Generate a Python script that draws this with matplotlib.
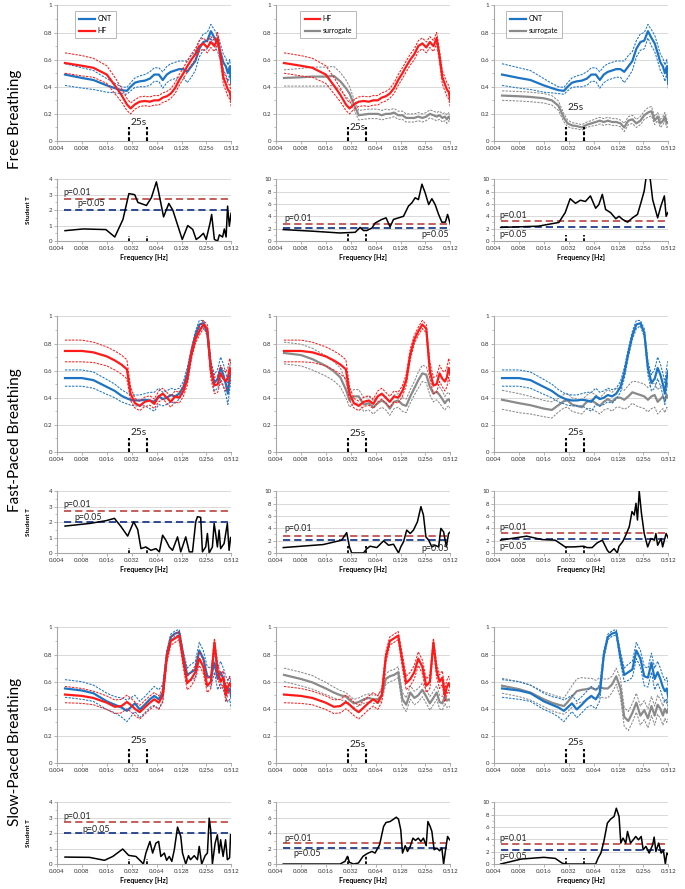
import numpy as np
import matplotlib
matplotlib.use("Agg")
import matplotlib.pyplot as plt
from matplotlib.ticker import MultipleLocator, FuncFormatter

plt.rcParams['font.family'] = ['Lato', 'DejaVu Sans']

# ---------------- data ----------------
# frequency grid of the coherence curves (Hz)
freq = [0.005, 0.008, 0.011, 0.016, 0.020, 0.024, 0.028, 0.031, 0.035, 0.040,
        0.046, 0.053, 0.060, 0.068, 0.076, 0.085, 0.095, 0.107, 0.120, 0.135,
        0.150, 0.168, 0.188, 0.210, 0.235, 0.262, 0.290, 0.320, 0.350, 0.380,
        0.410, 0.440, 0.465, 0.490, 0.512]

# free breathing - coherence mean / half width of band
cnt_free = [0.49, 0.465, 0.45, 0.41, 0.39, 0.375, 0.37, 0.40, 0.43, 0.44, 0.445, 0.46, 0.49, 0.49, 0.45, 0.49, 0.51, 0.52,
            0.53, 0.53, 0.51, 0.55, 0.59, 0.68, 0.73, 0.74, 0.81, 0.76, 0.72, 0.65, 0.58, 0.55, 0.50, 0.55, 0.42]
cnt_free_err = [0.08, 0.075, 0.07, 0.05, 0.035, 0.025, 0.025, 0.03, 0.035, 0.04, 0.045, 0.05, 0.05, 0.05, 0.06, 0.06, 0.06,
                0.06, 0.06, 0.06, 0.08, 0.08, 0.07, 0.06, 0.06, 0.06, 0.05, 0.06, 0.06, 0.06, 0.06, 0.06, 0.06, 0.05, 0.04]
hf_free = [0.575, 0.555, 0.54, 0.49, 0.41, 0.34, 0.27, 0.24, 0.27, 0.29, 0.295, 0.29, 0.30, 0.30, 0.32, 0.33, 0.35, 0.39,
           0.45, 0.50, 0.55, 0.60, 0.64, 0.70, 0.72, 0.69, 0.73, 0.70, 0.76, 0.62, 0.47, 0.42, 0.38, 0.36, 0.30]
hf_free_err = [0.075, 0.075, 0.07, 0.065, 0.06, 0.05, 0.045, 0.04, 0.035, 0.035, 0.035, 0.035, 0.035, 0.035, 0.035, 0.035,
               0.035, 0.04, 0.04, 0.04, 0.04, 0.04, 0.04, 0.04, 0.04, 0.04, 0.04, 0.04, 0.04, 0.04, 0.05, 0.05, 0.05,
               0.05, 0.05]
sur_hf_free = [0.465, 0.47, 0.475, 0.475, 0.48, 0.44, 0.39, 0.35, 0.27, 0.19, 0.195, 0.2, 0.2, 0.2, 0.19, 0.2, 0.2, 0.21,
               0.19, 0.19, 0.17, 0.17, 0.17, 0.18, 0.17, 0.18, 0.2, 0.19, 0.18, 0.19, 0.17, 0.18, 0.16, 0.18, 0.16]
sur_hf_free_err = [0.06, 0.065, 0.07, 0.07, 0.07, 0.065, 0.06, 0.05, 0.04, 0.035, 0.035, 0.035, 0.035, 0.035, 0.035,
                   0.035, 0.03, 0.03, 0.03, 0.03, 0.03, 0.03, 0.03, 0.03, 0.03, 0.03, 0.03, 0.03, 0.03, 0.03, 0.03,
                   0.03, 0.03, 0.03, 0.03]
sur_cnt_free = [0.335, 0.33, 0.325, 0.315, 0.30, 0.26, 0.17, 0.13, 0.115, 0.11, 0.10, 0.12, 0.13, 0.14, 0.15, 0.14, 0.15,
                0.14, 0.14, 0.13, 0.10, 0.15, 0.16, 0.13, 0.15, 0.19, 0.21, 0.22, 0.15, 0.18, 0.13, 0.15, 0.18, 0.13, 0.14]
sur_cnt_free_err = [0.035, 0.035, 0.035, 0.035, 0.035, 0.035, 0.03, 0.025, 0.02, 0.02, 0.02, 0.02, 0.02, 0.025, 0.025,
                    0.025, 0.025, 0.025, 0.025, 0.025, 0.03, 0.03, 0.03, 0.03, 0.03, 0.03, 0.035, 0.035, 0.03, 0.03,
                    0.03, 0.03, 0.03, 0.03, 0.03]

# fast-paced breathing
cnt_fast = [0.545, 0.545, 0.53, 0.48, 0.45, 0.415, 0.395, 0.385, 0.38, 0.38, 0.385, 0.38, 0.37, 0.41, 0.39, 0.40, 0.42,
            0.41, 0.43, 0.48, 0.58, 0.73, 0.86, 0.94, 0.95, 0.88, 0.62, 0.51, 0.54, 0.62, 0.57, 0.50, 0.43, 0.55, 0.60]
cnt_fast_err = [0.06, 0.06, 0.06, 0.055, 0.05, 0.045, 0.04, 0.04, 0.04, 0.04, 0.045, 0.06, 0.07, 0.06, 0.05, 0.05, 0.05,
                0.05, 0.04, 0.04, 0.04, 0.03, 0.03, 0.03, 0.02, 0.03, 0.05, 0.06, 0.07, 0.08, 0.08, 0.08, 0.08, 0.08, 0.08]
hf_fast = [0.745, 0.745, 0.735, 0.705, 0.675, 0.645, 0.61, 0.43, 0.36, 0.34, 0.37, 0.38, 0.355, 0.41, 0.43, 0.40, 0.37,
           0.41, 0.40, 0.45, 0.53, 0.72, 0.83, 0.89, 0.94, 0.91, 0.60, 0.49, 0.50, 0.58, 0.54, 0.52, 0.55, 0.62, 0.57]
hf_fast_err = [0.08, 0.08, 0.075, 0.07, 0.07, 0.07, 0.07, 0.05, 0.035, 0.035, 0.035, 0.035, 0.035, 0.04, 0.04, 0.04,
               0.04, 0.04, 0.04, 0.04, 0.04, 0.04, 0.03, 0.03, 0.03, 0.03, 0.06, 0.06, 0.06, 0.06, 0.06, 0.07, 0.07,
               0.07, 0.07]
sur_hf_fast = [0.73, 0.715, 0.685, 0.635, 0.595, 0.55, 0.46, 0.38, 0.41, 0.41, 0.35, 0.36, 0.33, 0.36, 0.38, 0.36, 0.32,
               0.37, 0.38, 0.35, 0.34, 0.41, 0.47, 0.53, 0.58, 0.57, 0.48, 0.43, 0.445, 0.42, 0.39, 0.36, 0.38, 0.39, 0.37]
sur_hf_fast_err = [0.08, 0.08, 0.08, 0.075, 0.07, 0.07, 0.06, 0.05, 0.05, 0.05, 0.05, 0.05, 0.05, 0.05, 0.05, 0.05,
                   0.05, 0.05, 0.05, 0.05, 0.05, 0.05, 0.05, 0.06, 0.06, 0.06, 0.06, 0.06, 0.06, 0.06, 0.06, 0.05,
                   0.05, 0.05, 0.05]
sur_cnt_fast = [0.385, 0.36, 0.345, 0.32, 0.31, 0.345, 0.375, 0.38, 0.35, 0.34, 0.33, 0.37, 0.38, 0.36, 0.34, 0.37, 0.39,
                0.37, 0.40, 0.40, 0.385, 0.41, 0.44, 0.43, 0.42, 0.41, 0.385, 0.41, 0.42, 0.37, 0.39, 0.41, 0.38, 0.42,
                0.40]
sur_cnt_fast_err = [0.07, 0.07, 0.065, 0.06, 0.06, 0.05, 0.05, 0.05, 0.05, 0.05, 0.05, 0.05, 0.06, 0.06, 0.06, 0.06,
                    0.07, 0.07, 0.07, 0.07, 0.07, 0.08, 0.08, 0.09, 0.09, 0.09, 0.09, 0.09, 0.09, 0.09, 0.09, 0.09,
                    0.09, 0.09, 0.09]

# slow-paced breathing
cnt_slow = [0.55, 0.535, 0.515, 0.455, 0.43, 0.41, 0.385, 0.41, 0.44, 0.395, 0.43, 0.47, 0.495, 0.47, 0.52, 0.80, 0.93,
            0.955, 0.965, 0.78, 0.65, 0.67, 0.69, 0.83, 0.77, 0.64, 0.63, 0.74, 0.62, 0.67, 0.62, 0.56, 0.53, 0.55, 0.48]
cnt_slow_err = [0.065, 0.065, 0.06, 0.06, 0.06, 0.07, 0.08, 0.07, 0.06, 0.06, 0.06, 0.06, 0.07, 0.07, 0.06, 0.03, 0.02,
                0.02, 0.02, 0.04, 0.05, 0.06, 0.06, 0.06, 0.06, 0.07, 0.07, 0.07, 0.08, 0.08, 0.08, 0.08, 0.08, 0.08,
                0.08]
hf_slow = [0.505, 0.495, 0.48, 0.445, 0.415, 0.42, 0.45, 0.43, 0.40, 0.375, 0.41, 0.445, 0.47, 0.445, 0.50, 0.78, 0.90,
           0.92, 0.94, 0.75, 0.59, 0.62, 0.67, 0.77, 0.71, 0.57, 0.60, 0.89, 0.68, 0.60, 0.63, 0.50, 0.56, 0.59, 0.56]
hf_slow_err = [0.06, 0.055, 0.05, 0.05, 0.05, 0.05, 0.05, 0.05, 0.05, 0.05, 0.05, 0.05, 0.05, 0.05, 0.05, 0.04, 0.03,
               0.03, 0.03, 0.05, 0.05, 0.05, 0.05, 0.05, 0.05, 0.05, 0.05, 0.03, 0.05, 0.05, 0.05, 0.05, 0.05, 0.05, 0.05]
sur_hf_slow = [0.65, 0.62, 0.595, 0.55, 0.52, 0.50, 0.49, 0.465, 0.44, 0.45, 0.47, 0.48, 0.47, 0.47, 0.50, 0.62, 0.64,
               0.65, 0.67, 0.47, 0.43, 0.52, 0.48, 0.50, 0.54, 0.49, 0.44, 0.48, 0.52, 0.45, 0.44, 0.49, 0.46, 0.47, 0.46]
sur_hf_slow_err = [0.05, 0.05, 0.05, 0.045, 0.04, 0.035, 0.03, 0.03, 0.03, 0.03, 0.03, 0.03, 0.03, 0.03, 0.04, 0.04,
                   0.04, 0.04, 0.04, 0.05, 0.05, 0.05, 0.05, 0.05, 0.05, 0.05, 0.05, 0.05, 0.05, 0.05, 0.05, 0.05,
                   0.05, 0.05, 0.05]
sur_cnt_slow = [0.57, 0.545, 0.52, 0.47, 0.445, 0.43, 0.42, 0.45, 0.49, 0.53, 0.54, 0.545, 0.555, 0.54, 0.56, 0.55, 0.55,
                0.58, 0.64, 0.55, 0.34, 0.31, 0.37, 0.445, 0.35, 0.39, 0.33, 0.42, 0.35, 0.43, 0.40, 0.35, 0.40, 0.37,
                0.40]
sur_cnt_slow_err = [0.055, 0.055, 0.055, 0.055, 0.06, 0.06, 0.06, 0.07, 0.08, 0.09, 0.09, 0.08, 0.07, 0.07, 0.07, 0.07,
                    0.07, 0.06, 0.06, 0.07, 0.07, 0.07, 0.07, 0.07, 0.07, 0.07, 0.07, 0.07, 0.07, 0.07, 0.07, 0.07,
                    0.07, 0.07, 0.07]

# Student T curves: a = CNT vs HF, b = HF vs surrogate, c = CNT vs surrogate
f_free_a = [0.005, 0.0083, 0.0156, 0.020, 0.0251, 0.0296, 0.0348, 0.038, 0.0482, 0.0553, 0.0636, 0.0681, 0.0777, 0.0899,
            0.1004, 0.1307, 0.1522, 0.1749, 0.1926, 0.2108, 0.2355, 0.2542, 0.2842, 0.2962, 0.3195, 0.3497, 0.3671,
            0.4017, 0.4216, 0.4426, 0.4616, 0.4844, 0.5084]
t_free_a = [0.67, 0.78, 0.74, 0.26, 1.4, 3.07, 3.0, 2.5, 2.3, 2.8, 3.83, 3.1, 1.56, 2.43, 2.0, 0.1, 1.0, 0.75, 0.1, 0.25,
            0.5, 0.1, 1.2, 1.72, 0.1, 0.0, 0.4, 0.26, 0.78, 0.26, 2.26, 0.96, 1.8]
f_free_b = [0.0049, 0.0113, 0.0238, 0.0363, 0.0416, 0.0456, 0.0502, 0.0577, 0.0631, 0.0761, 0.0856, 0.0957, 0.1054,
            0.1211, 0.1391, 0.1597, 0.1761, 0.1926, 0.2108, 0.2323, 0.2542, 0.2803, 0.3064, 0.3356, 0.3697, 0.4045,
            0.4457, 0.4744, 0.512]
t_free_b = [1.85, 1.58, 1.3, 1.41, 2.2, 1.7, 1.7, 2.1, 2.9, 3.5, 3.75, 2.3, 3.5, 3.75, 4.0, 5.65, 6.2, 7.0, 6.7, 9.2,
            7.8, 5.9, 6.85, 5.9, 4.3, 3.05, 3.05, 4.3, 2.7]
f_free_c = [0.0048, 0.0137, 0.0220, 0.0243, 0.0290, 0.0333, 0.0386, 0.0443, 0.0509, 0.0585, 0.0677, 0.0740, 0.0815,
            0.0893, 0.1025, 0.1186, 0.1298, 0.1430, 0.1643, 0.1887, 0.2167, 0.2388, 0.2614, 0.2803, 0.2941, 0.3064,
            0.3307, 0.3801, 0.4160, 0.4583, 0.4811, 0.5048]
t_free_c = [2.2, 2.4, 2.9, 3.0, 4.6, 6.85, 6.1, 6.6, 6.4, 7.3, 5.3, 5.9, 7.55, 5.1, 4.6, 3.6, 4.0, 3.5, 3.05, 3.75, 4.3,
            6.2, 8.1, 11.0, 12.0, 10.5, 6.7, 3.75, 5.65, 7.3, 4.0, 4.6]

f_fast_a = [0.0050, 0.0099, 0.0157, 0.0198, 0.0238, 0.0286, 0.0338, 0.0378, 0.0414, 0.0475, 0.0546, 0.0627, 0.0691,
            0.0756, 0.0827, 0.0911, 0.0997, 0.1146, 0.1254, 0.1440, 0.1587, 0.1737, 0.1901, 0.1994, 0.2182, 0.2291,
            0.2508, 0.2632, 0.2765, 0.3023, 0.3174, 0.3307, 0.3474, 0.3645, 0.3801, 0.4188, 0.4583, 0.4811, 0.5015]
t_fast_a = [1.74, 1.91, 2.09, 2.24, 1.7, 1.09, 2.02, 1.52, 0.28, 0.39, 0.17, 0.28, 0.07, 1.15, 0.83, 0.39, 0.17, 1.04,
            0.07, 1.04, 0.07, 0.07, 2.02, 2.35, 2.3, 0.07, 0.39, 1.26, 0.0, 0.39, 1.91, 1.26, 0.39, 1.48, 0.28, 0.61,
            1.91, 0.17, 1.0]
f_fast_b = [0.0049, 0.0149, 0.0249, 0.0286, 0.0309, 0.0329, 0.0456, 0.0502, 0.0549, 0.0662, 0.0799, 0.0918, 0.1054,
            0.1211, 0.1289, 0.1391, 0.1522, 0.1678, 0.1835, 0.2051, 0.2259, 0.2422, 0.2596, 0.2803, 0.3064, 0.3356,
            0.3697, 0.3935, 0.4247, 0.4583, 0.4877, 0.512]
t_fast_b = [0.87, 1.36, 2.07, 3.3, 0.98, 0, 0, 0.7, 1.09, 0.87, 1.96, 1.25, 1.41, 0, 0.98, 1.79, 3.7, 3.15, 3.7, 5.05,
            7.5, 6.14, 2.6, 2.07, 0.98, 1.25, 0.98, 3.97, 3.42, 0.98, 3.15, 3.42]
f_fast_c = [0.0048, 0.0099, 0.0151, 0.0220, 0.0290, 0.0368, 0.0485, 0.0534, 0.0614, 0.0705, 0.0815, 0.0937, 0.0997,
            0.1130, 0.1236, 0.1298, 0.1430, 0.1565, 0.1725, 0.1861, 0.1981, 0.2080, 0.2167, 0.2276, 0.2422, 0.2614,
            0.2880, 0.3151, 0.3474, 0.3620, 0.3801, 0.4188, 0.4365, 0.4811, 0.512]
t_fast_c = [2.07, 2.72, 2.17, 2.07, 0.98, 0.98, 1.09, 0.87, 0.87, 1.63, 2.07, 0.43, 0, 0.7, 0, 1.09, 1.79, 2.88, 4.24,
            6.7, 6.14, 8.04, 5.33, 10.0, 6.41, 3.15, 0.98, 2.34, 2.07, 3.15, 1.25, 2.34, 0.98, 3.15, 2.34]

f_slow_a = [0.0050, 0.0099, 0.0150, 0.0189, 0.0249, 0.0294, 0.0360, 0.0414, 0.0443, 0.0475, 0.0531, 0.0573, 0.0627,
            0.0677, 0.0720, 0.0794, 0.0845, 0.0911, 0.0977, 0.1047, 0.1146, 0.1254, 0.1316, 0.1440, 0.1554, 0.1643,
            0.1823, 0.1994, 0.2094, 0.2244, 0.2473, 0.2632, 0.2765, 0.2880, 0.3023, 0.3262, 0.3474, 0.3645, 0.3801,
            0.4073, 0.4365, 0.4583, 0.4877, 0.5015]
t_slow_a = [0.45, 0.43, 0.24, 0.49, 0.97, 0.56, 0.49, 0.17, 0, 0.71, 1.46, 0.71, 1.35, 1.46, 0.49, 0.71, 0.24, 0.49,
            0.17, 0.92, 2.39, 1.78, 0.71, 0, 0.54, 0.28, 0.54, 0.28, 1.14, 0, 0.54, 0.71, 2.97, 2.22, 0, 1.35, 1.89,
            0.71, 1.57, 0.49, 1.57, 0.28, 0.4, 1.9]
f_slow_b = [0.0049, 0.0238, 0.0273, 0.0292, 0.0309, 0.0346, 0.0397, 0.0450, 0.0502, 0.0577, 0.0631, 0.0715, 0.0799,
            0.0856, 0.0957, 0.1054, 0.1138, 0.1211, 0.1289, 0.1353, 0.1460, 0.1554, 0.1678, 0.1810, 0.1940, 0.2094,
            0.2259, 0.2422, 0.2614, 0.2744, 0.2921, 0.3064, 0.3262, 0.3523, 0.3801, 0.4045, 0.4247, 0.4457, 0.4744,
            0.5015]
t_slow_b = [0, 0, 0.34, 0.99, 0.22, 0, 0.13, 0.99, 1.33, 1.63, 1.42, 2.49, 4.86, 5.38, 5.5, 5.8, 6.06, 5.8, 4.43, 1.42,
            2.37, 1.63, 2.28, 3.35, 3.05, 3.35, 2.92, 3.35, 2.37, 5.5, 4.86, 4.22, 1.85, 2.06, 1.72, 2.06, 0, 1.63,
            3.57, 3.14]
f_slow_c = [0.0048, 0.0086, 0.016, 0.0220, 0.0265, 0.0290, 0.0677, 0.0725, 0.0783, 0.0851, 0.0937, 0.1025, 0.1130,
            0.1203, 0.1298, 0.1363, 0.1450, 0.1565, 0.1643, 0.1786, 0.1926, 0.2065, 0.2229, 0.2405, 0.2542, 0.2744,
            0.3003, 0.3307, 0.3448, 0.3620, 0.3907, 0.4188, 0.4457, 0.4710, 0.4913, 0.512]
t_slow_c = [0, 0.81, 1.08, 0.91, 0.16, 0, 0, 0.97, 1.77, 3.66, 6.61, 7.26, 7.69, 9.03, 7.69, 3.39, 4.19, 3.39, 5.27,
            3.39, 3.92, 4.46, 3.92, 4.46, 2.31, 2.85, 1.77, 3.12, 4.35, 2.04, 3.39, 1.77, 2.2, 0, 1.77, 1.5]

# significance thresholds per column
p01_free = [2.7, 2.8, 3.3]
p05_free = [2.03, 2.05, 2.25]
p01_fast = [2.7, 2.8, 3.3]
p05_fast = [2.03, 2.05, 2.25]
p01_slow = [2.7, 2.75, 3.25]
p05_slow = [2.03, 2.08, 2.3]
tmax_free = [4, 10, 10]
tmax_fast = [4, 10, 10]
tmax_slow = [4, 8, 10]

# 25 s window marks (Hz)
marks_25s = [0.0297, 0.0495]

xticks = [0.004, 0.008, 0.016, 0.032, 0.064, 0.128, 0.256, 0.512]
xticklabels = ['0.004', '0.008', '0.016', '0.032', '0.064', '0.128', '0.256', '0.512']
row_titles = ['Free Breathing', 'Fast-Paced Breathing', 'Slow-Paced Breathing']

# ---------------- style ----------------
BLUE = '#1c74c4'
RED = '#ff1a1a'
GREY = '#8a8a8a'
P01_C = '#c0504d'
P05_C = '#1f3d8a'
AXC = '#a6a6a6'

fig = plt.figure(figsize=(6.85, 8.89), dpi=100)

col_x = [0.0832, 0.4029, 0.7212]
col_w = 0.2545
coh_y = [0.8414, 0.4916, 0.1417]
coh_h = 0.1525
st_y = [0.7289, 0.378, 0.0281]
st_h = 0.0695
title_y = [0.866, 0.505, 0.154]
y25 = [[0.133, 0.103, 0.25], [0.143, 0.133, 0.143], [0.168, 0.136, 0.148]]
mark_h = [[0.3, 1.2, 1.0], [0.3, 1.2, 1.0], [0.3, 1.1, 1.0]]


def style_axes(ax, ymax, ystep):
    ax.set_xscale('log', base=2)
    ax.set_xlim(0.004, 0.512)
    ax.set_xticks(xticks)
    ax.set_xticklabels(xticklabels)
    ax.minorticks_off()
    ax.set_ylim(0, ymax)
    ax.yaxis.set_major_locator(MultipleLocator(ystep))
    ax.yaxis.set_minor_locator(MultipleLocator(ystep / 2))
    ax.yaxis.set_major_formatter(FuncFormatter(lambda v, p: f'{v:g}'))
    ax.grid(axis='y', color='#d9d9d9', lw=0.7)
    ax.set_axisbelow(True)
    for s in ['top', 'right']:
        ax.spines[s].set_visible(False)
    for s in ['left', 'bottom']:
        ax.spines[s].set_color(AXC)
        ax.spines[s].set_linewidth(0.8)
    ax.tick_params(which='major', labelsize=4.4, length=2, width=0.6, color=AXC, pad=1.5, labelcolor='#333333')
    ax.tick_params(axis='y', which='minor', length=1.3, width=0.5, color=AXC)
    ax.tick_params(axis='x', which='minor', length=0)


def coherence(ax, series, ytxt, legend_x=None):
    handles = {}
    for mean, err, color, label in series:
        m = np.asarray(mean)
        e = np.asarray(err)
        ax.plot(freq, m + e, color=color, lw=0.75, dashes=(2.2, 1.2))
        ax.plot(freq, m - e, color=color, lw=0.75, dashes=(2.2, 1.2))
        h, = ax.plot(freq, m, color=color, lw=1.6)
        handles[label] = h
    for xm in marks_25s:
        ax.plot([xm, xm], [0, 0.1], color='black', lw=1.5, dashes=(1.8, 1.0))
    ax.text(0.0385, ytxt, '25s', ha='center', va='center', fontsize=7.3, color='#222222')
    style_axes(ax, 1, 0.2)
    return handles


def student(ax, f, t, ymax, p01, p05, mh, labels):
    ax.plot([0.0048, 0.512], [p01, p01], color=P01_C, lw=1.3, dashes=(4, 2.2))
    ax.plot([0.0048, 0.512], [p05, p05], color=P05_C, lw=1.3, dashes=(4, 2.2))
    ax.plot(f, t, color='black', lw=1.1)
    for xm in marks_25s:
        ax.plot([xm, xm], [0, mh], color='black', lw=1.3, dashes=(1.5, 1.0))
    for txt, x, y, ha in labels:
        ax.text(x, y, txt, ha=ha, va='center', fontsize=6.3, color='#222222')
    style_axes(ax, ymax, 1 if ymax <= 4 else 2)
    ax.set_xlabel('Frequency [Hz]', fontsize=5, fontweight='bold', labelpad=2.5)


rows = [
    (cnt_free, cnt_free_err, hf_free, hf_free_err, sur_hf_free, sur_hf_free_err, sur_cnt_free, sur_cnt_free_err,
     [(f_free_a, t_free_a), (f_free_b, t_free_b), (f_free_c, t_free_c)], p01_free, p05_free, tmax_free),
    (cnt_fast, cnt_fast_err, hf_fast, hf_fast_err, sur_hf_fast, sur_hf_fast_err, sur_cnt_fast, sur_cnt_fast_err,
     [(f_fast_a, t_fast_a), (f_fast_b, t_fast_b), (f_fast_c, t_fast_c)], p01_fast, p05_fast, tmax_fast),
    (cnt_slow, cnt_slow_err, hf_slow, hf_slow_err, sur_hf_slow, sur_hf_slow_err, sur_cnt_slow, sur_cnt_slow_err,
     [(f_slow_a, t_slow_a), (f_slow_b, t_slow_b), (f_slow_c, t_slow_c)], p01_slow, p05_slow, tmax_slow),
]

# positions of the p= labels (x, y) per row and column
lab_pos = [
    [[(0.0048, 3.13, 'left'), (0.0071, 2.4, 'left')],
     [(0.0051, 3.64, 'left'), (0.488, 1.1, 'right')],
     [(0.0046, 4.2, 'left'), (0.0046, 1.03, 'left')]],
    [[(0.0048, 3.13, 'left'), (0.0064, 2.3, 'left')],
     [(0.0051, 3.97, 'left'), (0.488, 0.7, 'right')],
     [(0.0046, 4.2, 'left'), (0.0046, 1.0, 'left')]],
    [[(0.0048, 3.07, 'left'), (0.0082, 2.26, 'left')],
     [(0.0051, 3.35, 'left'), (0.0065, 1.42, 'left')],
     [(0.0046, 4.2, 'left'), (0.0046, 1.24, 'left')]],
]
legend_x = [0.085, 0.12, 0.05]

for r, (cnt, cnt_e, hf, hf_e, shf, shf_e, scn, scn_e, tcurves, p01, p05, tmax) in enumerate(rows):
    fig.text(0.022, title_y[r], row_titles[r], rotation=90, ha='center', va='center', fontsize=11)
    panels = [
        [(cnt, cnt_e, BLUE, 'CNT'), (hf, hf_e, RED, 'HF')],
        [(shf, shf_e, GREY, 'surrogate'), (hf, hf_e, RED, 'HF')],
        [(scn, scn_e, GREY, 'surrogate'), (cnt, cnt_e, BLUE, 'CNT')],
    ]
    leg_order = [['CNT', 'HF'], ['HF', 'surrogate'], ['CNT', 'surrogate']]
    for c in range(3):
        ax = fig.add_axes([col_x[c], coh_y[r], col_w, coh_h])
        hs = coherence(ax, panels[c], y25[r][c])
        if r == 0:
            lg = ax.legend([hs[k] for k in leg_order[c]], leg_order[c], loc='upper left',
                           bbox_to_anchor=(legend_x[c], 0.985), fontsize=5, frameon=True, fancybox=False,
                           edgecolor=AXC, borderpad=0.6, handlelength=2.2, labelspacing=0.7, handletextpad=0.4)
            lg.get_frame().set_linewidth(0.7)

        axt = fig.add_axes([col_x[c], st_y[r], col_w, st_h])
        (l1x, l1y, l1h), (l5x, l5y, l5h) = lab_pos[r][c]
        student(axt, tcurves[c][0], tcurves[c][1], tmax[c], p01[c], p05[c], mark_h[r][c],
                [('p=0.01', l1x, l1y, l1h), ('p=0.05', l5x, l5y, l5h)])
        if c == 0:
            axt.text(-0.165, 0.5, 'Student T', transform=axt.transAxes, rotation=90, ha='center', va='center',
                     fontsize=4.6, fontweight='bold')

fig.savefig('out.png', dpi=100)
